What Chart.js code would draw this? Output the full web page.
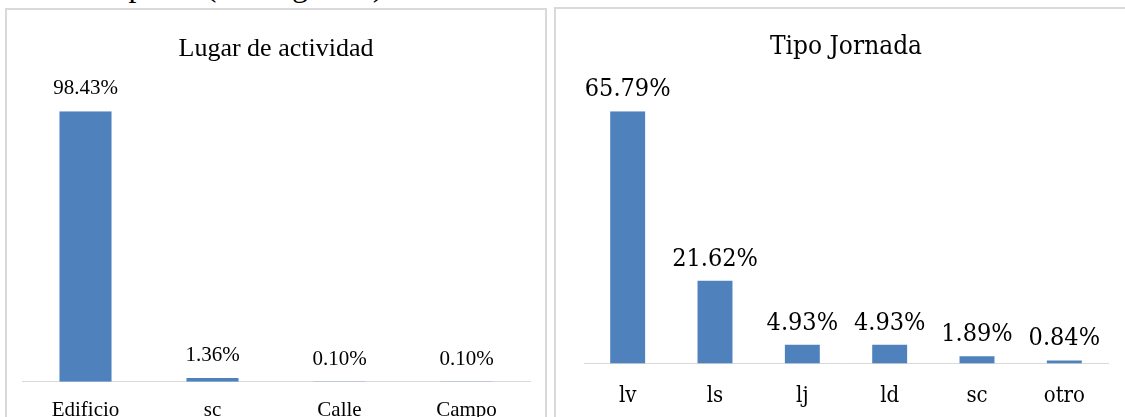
<!DOCTYPE html>
<html>
<head>
<meta charset="utf-8">
<script src="https://cdn.jsdelivr.net/npm/chart.js@4"></script>
<style>
  body { margin:0; width:1125px; height:417px; overflow:hidden; background:#fff; position:relative; }
  #texto { position:absolute; left:4px; top:-31px; font:32px/32px "Liberation Serif"; color:#000; white-space:nowrap; }
  .caja { position:absolute; border:2px solid #d9d9d9; background:#fff; }
  #caja1 { left:5px; top:8px; width:538px; height:440px; }
  #caja2 { left:554px; top:7px; width:600px; height:440px; }
  canvas { position:absolute; }
  #g1 { left:7px; top:10px; }
  #g2 { left:556px; top:9px; }
</style>
</head>
<body>
<div id="texto">de la compañía (ver Figura 6).</div>
<div class="caja" id="caja1"></div>
<div class="caja" id="caja2"></div>
<canvas id="g1" width="538" height="434"></canvas>
<canvas id="g2" width="580" height="424"></canvas>
<script>
// datos
const lugarCats = ["Edificio", "sc", "Calle", "Campo"];
const lugarVals = [98.43, 1.36, 0.10, 0.10];

const jornadaCats = ["lv", "ls", "lj", "ld", "sc", "otro"];
const jornadaVals = [65.79, 21.62, 4.93, 4.93, 1.89, 0.84];

const azul = "#4f81bd";

// etiquetas de porcentaje encima de cada barra
const etiquetas = {
  id: "etiquetas",
  afterDatasetsDraw(chart, args, opts){
    const ctx = chart.ctx;
    const meta = chart.getDatasetMeta(0);
    ctx.save();
    ctx.font = opts.font;
    ctx.fillStyle = opts.color;
    ctx.textAlign = "center";
    ctx.textBaseline = "alphabetic";
    meta.data.forEach((bar, i)=>{
      const v = chart.data.datasets[0].data[i];
      ctx.fillText(v.toFixed(2) + "%", bar.x, bar.y - opts.gap);
    });
    ctx.restore();
  }
};

function grafico(id, titulo, cats, vals, cfg){
  return new Chart(document.getElementById(id), {
    type: "bar",
    data: {
      labels: cats,
      datasets: [{
        data: vals,
        backgroundColor: azul,
        barPercentage: cfg.barra,
        categoryPercentage: 1
      }]
    },
    options: {
      responsive: false,
      animation: false,
      layout: { padding: cfg.padding },
      plugins: {
        legend: { display: false },
        tooltip: { enabled: false },
        title: {
          display: true,
          text: titulo,
          color: "#000",
          font: { family: cfg.fuente, size: cfg.tamTitulo, weight: "normal" },
          padding: cfg.padTitulo
        },
        etiquetas: { font: cfg.tamValor + "px " + cfg.fuenteCss, color: "#000", gap: cfg.gap }
      },
      scales: {
        x: {
          grid: { display: false, drawTicks: false },
          border: { display: true, color: "#d9d9d9", width: 1 },
          ticks: {
            color: "#000",
            padding: cfg.padTicks,
            font: { family: cfg.fuente, size: cfg.tamEje }
          }
        },
        y: {
          display: false,
          min: 0,
          max: cfg.max
        }
      }
    },
    plugins: [etiquetas]
  });
}

grafico("g1", "Lugar de actividad", lugarCats, lugarVals, {
  barra: 0.41,
  padding: { left: 15, right: 15, top: 0, bottom: 5 },
  fuente: "Liberation Serif",
  fuenteCss: "'Liberation Serif'",
  tamTitulo: 26,
  padTitulo: { top: 24, bottom: 46 },
  tamValor: 21,
  tamEje: 21,
  padTicks: 16,
  gap: 17,
  max: 98.43
});

grafico("g2", "Tipo Jornada", jornadaCats, jornadaVals, {
  barra: 0.40,
  padding: { left: 28, right: 28, top: 0, bottom: 5 },
  fuente: "DejaVu Serif Condensed",
  fuenteCss: "'DejaVu Serif Condensed'",
  tamTitulo: 26,
  padTitulo: { top: 23, bottom: 48 },
  tamValor: 25,
  tamEje: 22,
  padTicks: 19,
  gap: 15,
  max: 65.79
});
</script>
</body>
</html>
